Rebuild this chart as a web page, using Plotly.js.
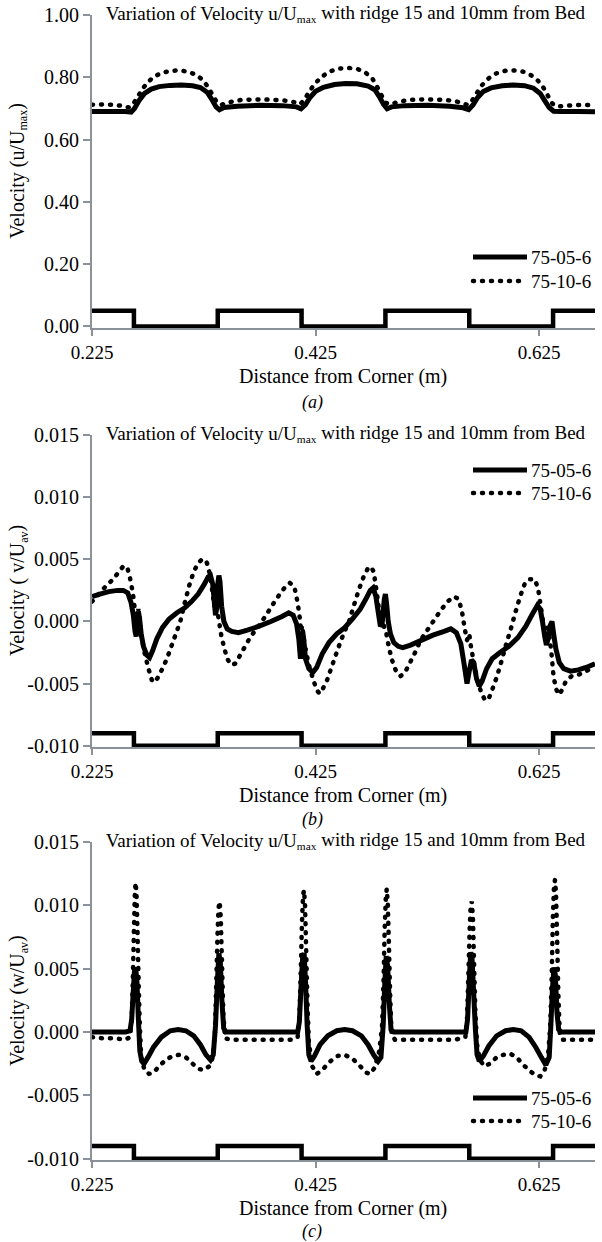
<!DOCTYPE html>
<html><head><meta charset="utf-8">
<script src="https://cdn.plot.ly/plotly-3.0.1.min.js"></script>
<style>html,body{margin:0;padding:0;background:#fff}#chart{width:602px;height:1242px}</style>
</head><body><div id="chart"></div>
<script>
// ---------- tick labels ----------
const xTicks = [0.225, 0.425, 0.625];
const xTickText = ['0.225', '0.425', '0.625'];
const yTicksU = [0, 0.2, 0.4, 0.6, 0.8, 1.0];
const yTickTextU = ['0.00', '0.20', '0.40', '0.60', '0.80', '1.00'];
const yTicksVW = [-0.010, -0.005, 0, 0.005, 0.010, 0.015];
const yTickTextVW = ['-0.010', '-0.005', '0.000', '0.005', '0.010', '0.015'];
const seriesNames = ['75-05-6', '75-10-6'];

// ---------- bed profile (ridges) ----------
const bedX = [0.225, 0.2625, 0.3375, 0.4125, 0.4875, 0.5625, 0.6375, 0.675];
const bedU = [0.05, 0, 0.05, 0, 0.05, 0, 0.05, 0.05];
const bedVW = [-0.009, -0.010, -0.009, -0.010, -0.009, -0.010, -0.009, -0.009];

// ---------- (a) u/Umax ----------
const uSolidX = [0.225,0.240,0.255,0.260,0.263,0.267,0.272,0.278,0.285,0.295,0.305,0.315,0.322,0.328,0.332,0.336,0.339,0.343,0.355,0.375,0.395,0.408,0.412,0.416,0.420,0.425,0.432,0.442,0.452,0.462,0.472,0.478,0.482,0.486,0.489,0.493,0.505,0.525,0.545,0.557,0.562,0.566,0.570,0.575,0.582,0.592,0.602,0.612,0.620,0.626,0.630,0.634,0.638,0.645,0.660,0.675];
const uSolidY = [0.690,0.690,0.690,0.688,0.700,0.725,0.748,0.762,0.770,0.774,0.775,0.773,0.767,0.752,0.730,0.705,0.696,0.703,0.707,0.710,0.709,0.705,0.699,0.712,0.735,0.755,0.768,0.777,0.780,0.779,0.772,0.760,0.738,0.712,0.699,0.705,0.709,0.710,0.707,0.702,0.696,0.712,0.735,0.754,0.766,0.773,0.775,0.773,0.765,0.748,0.725,0.703,0.691,0.690,0.690,0.689];
const uDotX = [0.225,0.235,0.245,0.253,0.258,0.262,0.266,0.270,0.275,0.281,0.288,0.296,0.304,0.311,0.318,0.324,0.329,0.333,0.337,0.341,0.348,0.358,0.372,0.386,0.398,0.406,0.411,0.415,0.419,0.424,0.430,0.437,0.446,0.455,0.463,0.470,0.476,0.480,0.484,0.488,0.492,0.498,0.508,0.522,0.536,0.548,0.556,0.561,0.565,0.569,0.574,0.580,0.587,0.595,0.603,0.611,0.618,0.624,0.629,0.633,0.637,0.641,0.648,0.658,0.668,0.675];
const uDotY = [0.712,0.713,0.711,0.708,0.703,0.715,0.738,0.762,0.785,0.803,0.815,0.821,0.822,0.818,0.808,0.792,0.768,0.742,0.718,0.712,0.720,0.727,0.729,0.728,0.725,0.720,0.713,0.728,0.752,0.778,0.800,0.818,0.828,0.830,0.826,0.814,0.795,0.770,0.742,0.718,0.713,0.720,0.727,0.729,0.728,0.725,0.718,0.711,0.725,0.748,0.775,0.797,0.813,0.821,0.822,0.818,0.806,0.789,0.766,0.740,0.715,0.706,0.708,0.711,0.711,0.710];

// ---------- (b) v/Uav ----------
const vSolidX = [0.225,0.232,0.240,0.248,0.253,0.257,0.260,0.262,0.2635,0.2645,0.2655,0.2665,0.2675,0.269,0.271,0.274,0.2765,0.279,0.283,0.288,0.294,0.301,0.308,0.314,0.320,0.3255,0.329,0.331,0.333,0.3345,0.3355,0.3365,0.3375,0.3385,0.3395,0.341,0.343,0.346,0.350,0.356,0.364,0.374,0.385,0.395,0.401,0.405,0.408,0.410,0.4115,0.4125,0.4135,0.4145,0.416,0.419,0.4225,0.426,0.431,0.437,0.444,0.451,0.458,0.465,0.470,0.474,0.4765,0.479,0.481,0.483,0.4845,0.4865,0.4875,0.4885,0.490,0.492,0.495,0.499,0.503,0.510,0.520,0.530,0.540,0.546,0.551,0.555,0.558,0.5605,0.5625,0.5645,0.5665,0.569,0.5715,0.574,0.578,0.583,0.590,0.598,0.606,0.613,0.619,0.6235,0.626,0.628,0.630,0.6315,0.633,0.635,0.6365,0.638,0.640,0.643,0.647,0.653,0.660,0.667,0.675];
const vSolidY = [0.0020,0.0022,0.0024,0.0025,0.0025,0.0023,0.0015,0.0005,-0.0008,-0.0012,-0.0004,0.0008,0.0003,-0.0010,-0.0020,-0.0027,-0.0029,-0.0024,-0.0014,-0.0005,0.0002,0.0007,0.0011,0.0016,0.0022,0.0030,0.0036,0.0037,0.0030,0.0015,0.0005,0.0010,0.0030,0.0037,0.0032,0.0012,0.0000,-0.0006,-0.0008,-0.0009,-0.0007,-0.0004,0.0000,0.0004,0.0007,0.0005,-0.0002,-0.0014,-0.0030,-0.0020,-0.0008,-0.0015,-0.0030,-0.0038,-0.0041,-0.0037,-0.0026,-0.0017,-0.0010,-0.0005,0.0002,0.0010,0.0018,0.0025,0.0027,0.0020,0.0008,-0.0004,-0.0002,0.0018,0.0022,0.0015,0.0000,-0.0010,-0.0017,-0.0020,-0.0021,-0.0019,-0.0015,-0.0011,-0.0008,-0.0006,-0.0009,-0.0018,-0.0035,-0.0050,-0.0040,-0.0031,-0.0033,-0.0046,-0.0052,-0.0048,-0.0038,-0.0030,-0.0025,-0.0020,-0.0013,-0.0004,0.0006,0.0013,0.0010,0.0000,-0.0012,-0.0019,-0.0014,-0.0003,0.0000,-0.0010,-0.0022,-0.0033,-0.0038,-0.0040,-0.0039,-0.0037,-0.0034];
const vDotX = [0.225,0.231,0.238,0.244,0.249,0.2535,0.257,0.259,0.2615,0.263,0.2645,0.2655,0.2665,0.2675,0.269,0.272,0.2755,0.2785,0.281,0.284,0.288,0.292,0.296,0.300,0.304,0.308,0.312,0.316,0.320,0.3235,0.327,0.329,0.331,0.333,0.3345,0.3355,0.3365,0.338,0.3395,0.341,0.3435,0.346,0.3495,0.353,0.357,0.362,0.367,0.373,0.380,0.387,0.393,0.398,0.402,0.406,0.409,0.411,0.412,0.413,0.414,0.416,0.419,0.423,0.426,0.4285,0.431,0.435,0.440,0.445,0.450,0.455,0.459,0.4635,0.468,0.472,0.4745,0.477,0.4795,0.482,0.4835,0.485,0.4865,0.488,0.490,0.493,0.497,0.501,0.505,0.509,0.514,0.519,0.525,0.531,0.537,0.543,0.549,0.553,0.556,0.5585,0.5605,0.5625,0.564,0.567,0.570,0.5735,0.5765,0.5795,0.583,0.587,0.591,0.595,0.600,0.604,0.608,0.612,0.616,0.621,0.624,0.626,0.628,0.6295,0.631,0.6325,0.634,0.636,0.638,0.6405,0.643,0.6455,0.649,0.654,0.660,0.667,0.675];
const vDotY = [0.0016,0.0022,0.0029,0.0034,0.0040,0.0045,0.0042,0.0035,0.0023,0.0012,0.0005,-0.0003,0.0010,0.0002,-0.0010,-0.0025,-0.0038,-0.0047,-0.0049,-0.0045,-0.0038,-0.0030,-0.0020,-0.0010,0.0000,0.0015,0.0029,0.0040,0.0047,0.0050,0.0049,0.0044,0.0035,0.0022,0.0012,0.0019,0.0012,0.0004,-0.0005,-0.0013,-0.0022,-0.0030,-0.0035,-0.0034,-0.0028,-0.0020,-0.0012,-0.0005,0.0004,0.0014,0.0022,0.0028,0.0031,0.0028,0.0015,0.0002,-0.0008,-0.0003,-0.0012,-0.0022,-0.0035,-0.0047,-0.0055,-0.0058,-0.0055,-0.0048,-0.0035,-0.0022,-0.0010,0.0000,0.0012,0.0025,0.0036,0.0043,0.0044,0.0040,0.0025,0.0008,-0.0004,0.0002,-0.0005,-0.0008,-0.0018,-0.0030,-0.0040,-0.0044,-0.0041,-0.0034,-0.0025,-0.0015,-0.0007,0.0001,0.0009,0.0016,0.0020,0.0018,0.0008,-0.0006,-0.0015,-0.0010,-0.0020,-0.0035,-0.0048,-0.0058,-0.0063,-0.0063,-0.0055,-0.0045,-0.0033,-0.0020,-0.0005,0.0008,0.0020,0.0030,0.0034,0.0034,0.0027,0.0015,0.0003,-0.0008,-0.0012,-0.0005,-0.0010,-0.0025,-0.0045,-0.0055,-0.0059,-0.0055,-0.0048,-0.0044,-0.0043,-0.0040,-0.0036];

// ---------- (c) w/Uav ----------
const wSolidX = [0.225,0.240,0.255,0.259,0.2605,0.2618,0.2630,0.2640,0.2652,0.2665,0.2678,0.2695,0.2715,0.275,0.280,0.287,0.295,0.302,0.309,0.316,0.322,0.327,0.331,0.3335,0.3355,0.3372,0.3385,0.3398,0.3412,0.3428,0.345,0.360,0.380,0.400,0.409,0.4105,0.412,0.4135,0.4148,0.416,0.4175,0.419,0.421,0.424,0.429,0.436,0.444,0.451,0.458,0.466,0.472,0.477,0.481,0.4835,0.4855,0.487,0.4882,0.4895,0.491,0.4925,0.495,0.510,0.530,0.550,0.5595,0.561,0.5625,0.5638,0.565,0.5665,0.568,0.5695,0.5715,0.575,0.580,0.587,0.595,0.602,0.609,0.616,0.622,0.627,0.631,0.634,0.6355,0.637,0.6383,0.6395,0.641,0.6425,0.645,0.660,0.675];
const wSolidY = [0.0000,0.0000,0.0000,0.0001,0.0010,0.0030,0.0048,0.0051,0.0040,0.0010,-0.0015,-0.0023,-0.0025,-0.0020,-0.0012,-0.0004,0.0001,0.0002,0.0001,-0.0003,-0.0010,-0.0018,-0.0022,-0.0018,0.0005,0.0040,0.0062,0.0055,0.0025,0.0003,0.0000,0.0000,0.0000,0.0000,0.0000,0.0008,0.0035,0.0060,0.0062,0.0040,0.0005,-0.0018,-0.0023,-0.0019,-0.0010,-0.0003,0.0001,0.0002,0.0001,-0.0003,-0.0010,-0.0018,-0.0023,-0.0020,0.0005,0.0040,0.0060,0.0052,0.0022,0.0002,0.0000,0.0000,0.0000,0.0000,0.0000,0.0010,0.0040,0.0063,0.0058,0.0030,0.0002,-0.0018,-0.0023,-0.0019,-0.0011,-0.0003,0.0001,0.0002,0.0001,-0.0004,-0.0012,-0.0020,-0.0026,-0.0020,0.0005,0.0035,0.0051,0.0045,0.0015,0.0002,0.0000,0.0000,0.0000];
const wDotX = [0.225,0.235,0.245,0.255,0.259,0.2605,0.2615,0.2625,0.2633,0.2640,0.2648,0.2657,0.2667,0.2678,0.269,0.272,0.276,0.280,0.285,0.291,0.297,0.303,0.309,0.315,0.320,0.325,0.330,0.333,0.3350,0.3362,0.3372,0.3382,0.3392,0.3402,0.3413,0.3425,0.344,0.350,0.365,0.380,0.395,0.405,0.409,0.4105,0.4117,0.4128,0.4138,0.4147,0.4156,0.4166,0.4177,0.419,0.422,0.426,0.431,0.437,0.444,0.451,0.458,0.465,0.470,0.474,0.478,0.482,0.4845,0.4858,0.4868,0.4878,0.4887,0.4896,0.4906,0.4917,0.493,0.496,0.510,0.530,0.550,0.559,0.5605,0.5617,0.5628,0.5638,0.5648,0.5658,0.5668,0.568,0.5695,0.572,0.576,0.581,0.587,0.593,0.599,0.605,0.611,0.617,0.622,0.626,0.630,0.633,0.635,0.6363,0.6373,0.6383,0.6392,0.6401,0.6411,0.6422,0.6435,0.646,0.660,0.675];
const wDotY = [-0.0004,-0.0005,-0.0005,-0.0006,-0.0004,0.0010,0.0040,0.0080,0.0108,0.0118,0.0110,0.0080,0.0040,0.0005,-0.0020,-0.0030,-0.0033,-0.0032,-0.0027,-0.0022,-0.0019,-0.0018,-0.0020,-0.0025,-0.0029,-0.0030,-0.0027,-0.0020,0.0000,0.0040,0.0075,0.0098,0.0103,0.0090,0.0055,0.0015,-0.0005,-0.0006,-0.0006,-0.0006,-0.0006,-0.0006,-0.0004,0.0010,0.0045,0.0085,0.0108,0.0112,0.0100,0.0065,0.0025,-0.0008,-0.0027,-0.0033,-0.0030,-0.0024,-0.0019,-0.0018,-0.0021,-0.0027,-0.0032,-0.0033,-0.0028,-0.0015,0.0005,0.0040,0.0080,0.0105,0.0113,0.0102,0.0070,0.0030,-0.0002,-0.0006,-0.0006,-0.0006,-0.0006,-0.0004,0.0010,0.0045,0.0080,0.0100,0.0103,0.0090,0.0055,0.0015,-0.0010,-0.0022,-0.0027,-0.0025,-0.0020,-0.0018,-0.0017,-0.0020,-0.0026,-0.0031,-0.0034,-0.0035,-0.0030,-0.0018,0.0005,0.0045,0.0090,0.0115,0.0120,0.0110,0.0075,0.0030,-0.0002,-0.0006,-0.0006,-0.0006];

// ---------- styling ----------
const F = 'Liberation Serif';
const AX = '#8a9199';
const LW = 5;
const DOT = '1px,8px';
const xDom = [92/602, 595/602];
const H = 1242;
const doms = [[1-328/H, 1-15/H], [1-747/H, 1-435/H], [1-1160/H, 1-842/H]];
const legendRows = [[257, 281], [470, 493], [1098, 1121]];
const titleY = [15, 435, 842];
const xTitleY = [376, 795, 1208];
const labelY = [402, 819, 1231];

function line(x, y, xa, ya, name, dotted, leg, show) {
  return {type:'scatter', mode:'lines', x:x, y:y, xaxis:xa, yaxis:ya, name:name,
    legend:leg, showlegend:show, hoverinfo:'skip',
    line:{color:'#000', width: dotted ? 4.5 : LW, dash: dotted ? DOT : 'solid', shape:'linear', simplify:false}};
}
function bed(y, xa, ya) {
  return {type:'scatter', mode:'lines', x:bedX, y:y, xaxis:xa, yaxis:ya, showlegend:false,
    hoverinfo:'skip', line:{color:'#000', width:4.5, shape:'hv'}};
}
const traces = [
  bed(bedU, 'x', 'y'),
  line(uSolidX, uSolidY, 'x', 'y', seriesNames[0], false, 'legend', true),
  line(uDotX, uDotY, 'x', 'y', seriesNames[1], true, 'legend', true),
  bed(bedVW, 'x2', 'y2'),
  line(vSolidX, vSolidY, 'x2', 'y2', seriesNames[0], false, 'legend2', true),
  line(vDotX, vDotY, 'x2', 'y2', seriesNames[1], true, 'legend2', true),
  bed(bedVW, 'x3', 'y3'),
  line(wSolidX, wSolidY, 'x3', 'y3', seriesNames[0], false, 'legend3', true),
  line(wDotX, wDotY, 'x3', 'y3', seriesNames[1], true, 'legend3', true)
];

function xAxis(anchor) {
  return {domain:xDom, anchor:anchor, range:[0.225, 0.675], tickvals:xTicks, ticktext:xTickText,
    ticks:'outside', ticklen:6, tickwidth:2, tickcolor:AX, showline:true, linecolor:AX, linewidth:2,
    showgrid:false, zeroline:false, fixedrange:true,
    tickfont:{family:F, size:19, color:'#000'}};
}
function yAxis(anchor, dom, range, tv, tt) {
  return {domain:dom, anchor:anchor, range:range, tickvals:tv, ticktext:tt,
    ticks:'outside', ticklen:7, tickwidth:2, tickcolor:AX, showline:true, linecolor:AX, linewidth:2,
    showgrid:false, zeroline:false, fixedrange:true,
    tickfont:{family:F, size:20, color:'#000'}};
}
function legend(yTop) {
  return {x:597/602, xanchor:'right', y:1-yTop/H, yanchor:'top', bgcolor:'rgba(0,0,0,0)',
    borderwidth:0, font:{family:F, size:19, color:'#000'}, tracegroupgap:0, itemwidth:30};
}
const titleText = 'Variation of Velocity u/U<sub>max</sub> with ridge 15 and 10mm from Bed';
const xTitle = 'Distance from Corner (m)';
const yTitles = ['Velocity (u/U<sub>max</sub>)', 'Velocity ( v/U<sub>av</sub>)', 'Velocity (w/U<sub>av</sub>)'];
const panelLabels = ['(a)', '(b)', '(c)'];
const annotations = [];
for (let i = 0; i < 3; i++) {
  annotations.push({xref:'paper', yref:'paper', x:102/602, y:1-titleY[i]/H, xanchor:'left', yanchor:'middle',
    text:titleText, showarrow:false, font:{family:F, size:19, color:'#000'}});
  annotations.push({xref:'paper', yref:'paper', x:18/602, y:(doms[i][0]+doms[i][1])/2, xanchor:'center', yanchor:'middle',
    text:yTitles[i], textangle:-90, showarrow:false, font:{family:F, size:20, color:'#000'}});
  annotations.push({xref:'paper', yref:'paper', x:(xDom[0]+xDom[1])/2, y:1-xTitleY[i]/H, xanchor:'center', yanchor:'middle',
    text:xTitle, showarrow:false, font:{family:F, size:20, color:'#000'}});
  annotations.push({xref:'paper', yref:'paper', x:312/602, y:1-labelY[i]/H, xanchor:'center', yanchor:'middle',
    text:'<i>' + panelLabels[i] + '</i>', showarrow:false, font:{family:F, size:18, color:'#000'}});
}

const layout = {
  width:602, height:1242, margin:{l:0, r:0, t:0, b:0},
  paper_bgcolor:'#fff', plot_bgcolor:'#fff', showlegend:true,
  xaxis:xAxis('y'), xaxis2:xAxis('y2'), xaxis3:xAxis('y3'),
  yaxis:yAxis('x', doms[0], [-0.005, 1.0], yTicksU, yTickTextU),
  yaxis2:yAxis('x2', doms[1], [-0.0101, 0.015], yTicksVW, yTickTextVW),
  yaxis3:yAxis('x3', doms[2], [-0.0101, 0.015], yTicksVW, yTickTextVW),
  legend:legend(238), legend2:legend(452), legend3:legend(1080),
  annotations:annotations
};

const SVGNS = 'http://www.w3.org/2000/svg';
function translateOf(el) {
  var m = /translate\(\s*([-\d.]+)[ ,]+([-\d.]+)\s*\)/.exec(el.getAttribute('transform') || '');
  return m ? [parseFloat(m[1]), parseFloat(m[2])] : [0, 0];
}
Plotly.newPlot('chart', traces, layout, {staticPlot:true, displayModeBar:false}).then(function(){
  // round dots for the dotted series
  document.querySelectorAll('path').forEach(function(p){
    var d = p.style.strokeDasharray || '';
    if (d.indexOf('1px') === 0) { p.style.strokeLinecap = 'round'; }
  });
  // legends: longer line samples and tighter rows, as in the reference
  ['legend', 'legend2', 'legend3'].forEach(function(id, i){
    var g = document.querySelector('g.' + id);
    if (!g) return;
    g.querySelectorAll('[clip-path]').forEach(function(c){ c.removeAttribute('clip-path'); });
    var ly = translateOf(g)[1];
    g.querySelectorAll('g.traces').forEach(function(item, k){
      var tx = translateOf(item)[0];
      item.setAttribute('transform', 'translate(' + tx + ',' + (legendRows[i][k] - ly) + ')');
    });
    g.querySelectorAll('g.legendlines path').forEach(function(p){ p.setAttribute('d', 'M-18,0h54'); });
  });
  // subscripts: explicit pixel sizes, smaller as in the reference; no zero-width helpers
  document.querySelectorAll('tspan').forEach(function(t){
    var fs = t.style.fontSize || '';
    if (fs.indexOf('%') > 0) {
      var base = parseFloat(window.getComputedStyle(t.parentNode).fontSize);
      t.style.fontSize = (base * 0.6).toFixed(1) + 'px';
    }
  });
  document.querySelectorAll('tspan').forEach(function(t){
    if (t.textContent === '\u200b') {
      var dy = t.getAttribute('dy');
      var next = t.nextSibling;
      var parent = t.parentNode;
      if (next && next.nodeType === 3) {
        var nt = document.createElementNS(SVGNS, 'tspan');
        if (dy) nt.setAttribute('dy', dy);
        nt.style.fontSize = window.getComputedStyle(parent).fontSize;
        nt.textContent = next.textContent;
        parent.replaceChild(nt, next);
      }
      parent.removeChild(t);
    }
  });
  var walker = document.createTreeWalker(document.querySelector('#chart'), NodeFilter.SHOW_TEXT, null);
  var nodes = [];
  while (walker.nextNode()) nodes.push(walker.currentNode);
  nodes.forEach(function(n){
    if (n.nodeValue.indexOf('\u200b') >= 0) n.nodeValue = n.nodeValue.replace(/\u200b/g, '');
  });
});
</script></body></html>
